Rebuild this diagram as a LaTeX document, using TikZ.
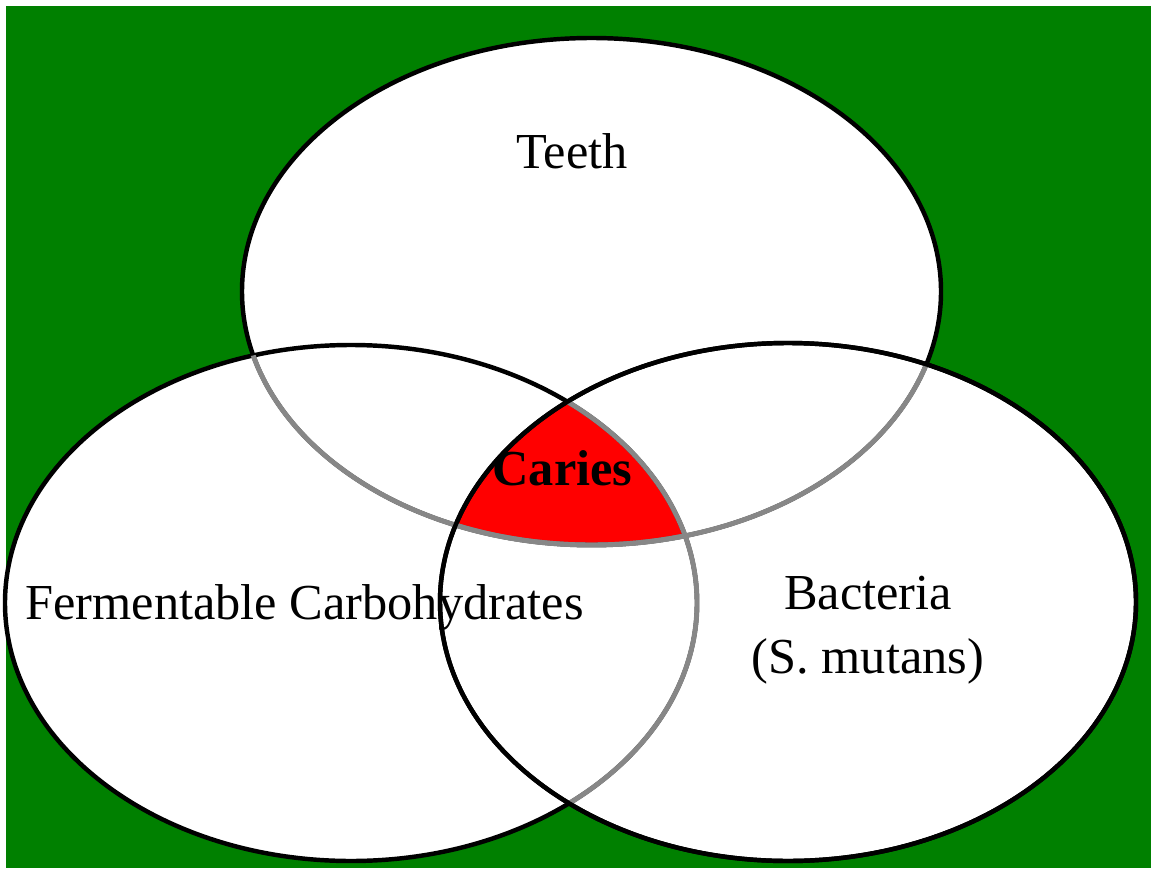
\documentclass[tikz,border=0pt]{standalone}
\usepackage{fontspec}
\setmainfont{Liberation Serif}
\usetikzlibrary{positioning}

\definecolor{bggreen}{RGB}{0,128,0}
\definecolor{rimgray}{RGB}{135,135,135}
\def\teeth{(591.5,291.5) ellipse [x radius=349.5, y radius=253.5]}
\def\carbs{(351,603) ellipse [x radius=346, y radius=258]}
\def\bact{(788,602) ellipse [x radius=348, y radius=259]}

\begin{document}
\begin{tikzpicture}[x=0.03cm,y=-0.03cm,
  rim/.style={draw=black,line width=3.8pt},
  faint/.style={draw=rimgray,line width=4.2pt},
  lbl/.style={font=\fontsize{43}{54.6}\selectfont,inner sep=0pt,anchor=base,align=center}]
\useasboundingbox (0,0) rectangle (1151,871);
\fill[bggreen] (6,6) rectangle (1151,868);
\fill[white] \teeth \carbs \bact;
% the part all three share
\begin{scope}
\clip \teeth; \clip \carbs;
\fill[red] \bact;
\end{scope}
\path[rim] \teeth; \path[rim] \carbs; \path[rim] \bact;
% lines that lie under another set
\begin{scope} \clip \carbs; \path[faint] \teeth; \end{scope}
\begin{scope} \clip \bact; \path[faint] \teeth; \path[faint] \carbs; \end{scope}
\path[rim] \bact;
\node[lbl] (teethtxt) at (572,168) {Teeth};
\node[lbl] (carbstxt) at (304.5,619) {Fermentable Carbohydrates};
\node[lbl] (bacttxt) at (868,673) {Bacteria\\(S. mutans)};
\node[lbl,font=\fontsize{43}{54.6}\selectfont\bfseries] (caries) at (562.5,485) {Caries};
\end{tikzpicture}
\end{document}
